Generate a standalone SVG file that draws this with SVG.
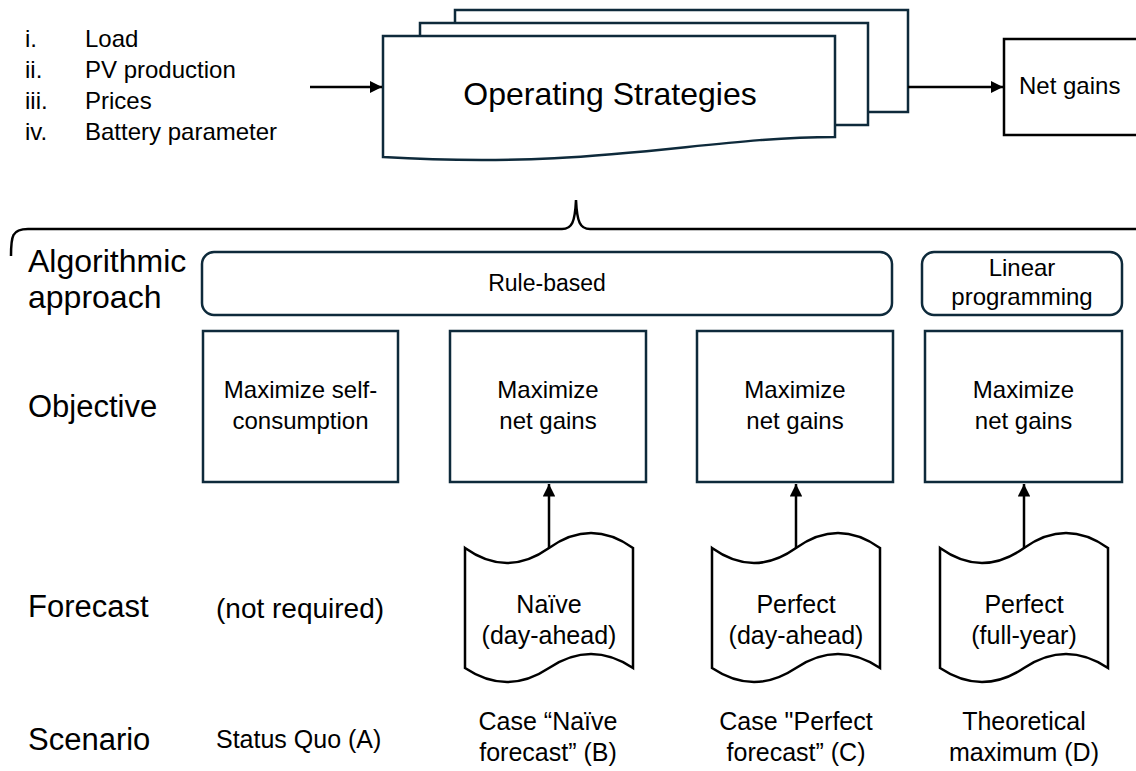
<svg xmlns="http://www.w3.org/2000/svg" width="1136" height="771" viewBox="0 0 1136 771">
<style>
text{font-family:"Liberation Sans",Arial,sans-serif;fill:#000}
.lbl{font-size:31px}
.lst{font-size:24px}
.bx{fill:#fff;stroke:#0e2a3b;stroke-width:2.5}
.tp{fill:#fff;stroke:#000;stroke-width:2.5}
.ln{fill:none;stroke:#000;stroke-width:2.5}
.t{font-size:24px;text-anchor:middle}
.s{font-size:25px;text-anchor:middle}
</style>
<defs>
<marker id="ah" viewBox="0 0 10 10" refX="10" refY="5" markerWidth="5" markerHeight="5" orient="auto" markerUnits="strokeWidth">
<path d="M0,0 L10,5 L0,10 z" fill="#000"/>
</marker>
</defs>
<rect width="1136" height="771" fill="#fff"/>

<g id="inputs">
<text class="lst" x="25" y="47">i.</text><text class="lst" x="85" y="47">Load</text>
<text class="lst" x="25" y="78">ii.</text><text class="lst" x="85" y="78">PV production</text>
<text class="lst" x="25" y="109">iii.</text><text class="lst" x="85" y="109">Prices</text>
<text class="lst" x="25" y="140">iv.</text><text class="lst" x="85" y="140">Battery parameter</text>
</g>

<g id="operating-strategies">
<path class="bx" d="M455,112 V10 H908 V112 Z"/>
<path class="bx" d="M420,125 V23 H868 V125 Z"/>
<path class="bx" d="M383,157 V36 H835 V137 C700,137 600,170 383,157 Z"/>
<text x="610" y="105" style="font-size:32px;text-anchor:middle">Operating Strategies</text>
</g>

<g id="net-gains">
<path class="ln" d="M1140,39 H1004 V135 H1140" style="fill:#fff"/>
<text x="1019" y="94" style="font-size:24px">Net gains</text>
</g>

<g id="brace">
<path class="ln" d="M11,256 C11,236 12,229 28,229 L562,229 C572,229 575,222 576,200 C577,222 580,229 590,229 L1136,229"/>
</g>

<g id="row-labels">
<text class="lbl" x="28" y="272" style="font-size:32px">Algorithmic</text>
<text class="lbl" x="28" y="308" style="font-size:32px">approach</text>
<text class="lbl" x="28" y="417">Objective</text>
<text class="lbl" x="28" y="617">Forecast</text>
<text class="lbl" x="28" y="750">Scenario</text>
</g>

<g id="rule-based">
<rect class="bx" x="202" y="252" width="690" height="63" rx="12"/>
<text class="t" x="547" y="291" style="font-size:23px">Rule-based</text>
</g>
<g id="linear-programming">
<rect class="bx" x="922" y="252" width="200" height="63" rx="12"/>
<text class="t" x="1022" y="276">Linear</text>
<text class="t" x="1022" y="305">programming</text>
</g>

<g id="obj-a">
<rect class="bx" x="203" y="331" width="195" height="151"/>
<text class="t" x="300.5" y="398">Maximize self-</text>
<text class="t" x="300.5" y="429">consumption</text>
</g>
<g id="obj-b">
<rect class="bx" x="450" y="331" width="196" height="151"/>
<text class="t" x="548" y="398">Maximize</text>
<text class="t" x="548" y="429">net gains</text>
</g>
<g id="obj-c">
<rect class="bx" x="697" y="331" width="196" height="151"/>
<text class="t" x="795" y="398">Maximize</text>
<text class="t" x="795" y="429">net gains</text>
</g>
<g id="obj-d">
<rect class="bx" x="925" y="331" width="197" height="151"/>
<text class="t" x="1023.5" y="398">Maximize</text>
<text class="t" x="1023.5" y="429">net gains</text>
</g>

<g id="fc-a">
<text x="216" y="618" style="font-size:28px">(not required)</text>
</g>
<g id="fc-b">
<path class="tp" d="M465,548 Q507,578 549,548 Q591,518 633,548 V668 Q591,640 549,668 Q507,696 465,668 Z"/>
<text class="s" x="549" y="613">Naïve</text>
<text class="s" x="549" y="644">(day-ahead)</text>
</g>
<g id="fc-c">
<path class="tp" d="M712,548 Q754,578 796,548 Q838,518 880,548 V668 Q838,640 796,668 Q754,696 712,668 Z"/>
<text class="s" x="796" y="613">Perfect</text>
<text class="s" x="796" y="644">(day-ahead)</text>
</g>
<g id="fc-d">
<path class="tp" d="M940,548 Q982,578 1024,548 Q1066,518 1108,548 V668 Q1066,640 1024,668 Q982,696 940,668 Z"/>
<text class="s" x="1024" y="613">Perfect</text>
<text class="s" x="1024" y="644">(full-year)</text>
</g>

<g id="sc-a">
<text x="216" y="748" style="font-size:25px">Status Quo (A)</text>
</g>
<g id="sc-b">
<text class="s" x="548" y="730">Case “Naïve</text>
<text class="s" x="548" y="761">forecast” (B)</text>
</g>
<g id="sc-c">
<text class="s" x="796" y="730">Case "Perfect</text>
<text class="s" x="796" y="761">forecast” (C)</text>
</g>
<g id="sc-d">
<text class="s" x="1024" y="730">Theoretical</text>
<text class="s" x="1024" y="761">maximum (D)</text>
</g>

<g id="connectors">
<line class="ln" x1="310" y1="87" x2="382" y2="87" marker-end="url(#ah)"/>
<line class="ln" x1="908" y1="87" x2="1003" y2="87" marker-end="url(#ah)"/>
<line class="ln" x1="549" y1="548" x2="549" y2="484" marker-end="url(#ah)"/>
<line class="ln" x1="796" y1="548" x2="796" y2="484" marker-end="url(#ah)"/>
<line class="ln" x1="1024" y1="548" x2="1024" y2="484" marker-end="url(#ah)"/>
</g>
</svg>
